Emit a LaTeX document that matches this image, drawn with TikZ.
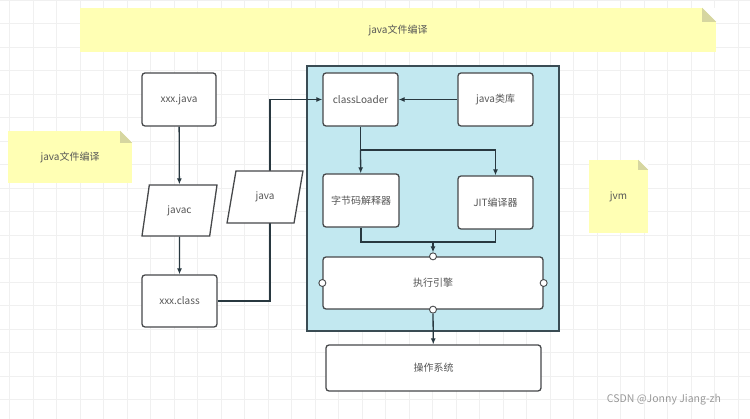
\documentclass[tikz,border=0pt]{standalone}
\usepackage{fontspec}
\setmainfont{Noto Sans CJK SC}
\usepackage{xcolor}
\usepackage{tikz}
\usetikzlibrary{arrows.meta,positioning,shapes.geometric,backgrounds}
\definecolor{edge}{RGB}{70,72,74}
\definecolor{wire}{RGB}{40,56,64}
\definecolor{jvmfill}{RGB}{194,232,240}
\definecolor{jvmedge}{RGB}{58,76,84}
\definecolor{notefill}{RGB}{255,255,180}
\definecolor{notefold}{RGB}{214,214,160}
\definecolor{txt}{RGB}{85,85,85}
\begin{document}
\begin{tikzpicture}[x=1pt,y=-1pt, every node/.style={font=\fontsize{10}{12}\selectfont,text=txt}, box/.style={draw=edge,line width=1.3pt,rounded corners=3pt,fill=white,inner sep=0pt}, para/.style={draw=edge,line width=1.3pt,fill=white,trapezium,trapezium left angle=74,trapezium right angle=106,trapezium stretches=true,inner sep=0pt}, note/.style={fill=notefill,inner sep=0pt}, port/.style={circle,draw=edge,line width=0.9pt,fill=white,minimum size=7pt,inner sep=0pt}, line/.style={draw=wire,line width=1.3pt}, arr/.style={line,-{Latex[length=6pt,width=5pt]}}]
\useasboundingbox (0,0) rectangle (750,419);
\node[note,minimum width=636pt,minimum height=44pt] (topnote) at (398,30) {java文件编译};
\fill[white] (topnote.north east) -- ++(-14,0) -- ++(14,14) -- cycle;
\fill[notefold] (topnote.north east) ++(-14,0) -- ++(0,14) -- ++(14,0) -- cycle;
\node[note,minimum width=124pt,minimum height=52pt] (leftnote) at (70,157) {java文件编译};
\fill[white] (leftnote.north east) -- ++(-12,0) -- ++(12,12) -- cycle;
\fill[notefold] (leftnote.north east) ++(-12,0) -- ++(0,12) -- ++(12,0) -- cycle;
\node[note,minimum width=59pt,minimum height=73pt] (jvmnote) at (618.5,196.5) {jvm};
\fill[white] (jvmnote.north east) -- ++(-10,0) -- ++(10,10) -- cycle;
\fill[notefold] (jvmnote.north east) ++(-10,0) -- ++(0,10) -- ++(10,0) -- cycle;
\node[box,minimum width=74pt,minimum height=53pt] (xjava) at (179,99.5) {xxx.java};
\node[para,minimum width=75pt,minimum height=51pt] (javac) at (179.5,210.5) {javac};
\node[box,minimum width=75pt,minimum height=52pt] (xclass) at (179.5,301) {xxx.class};
\node[para,minimum width=76pt,minimum height=52pt] (javaip) at (265,197) {java};
\node[box,minimum width=75pt,minimum height=53pt] (loader) at (360.5,99.5) {classLoader};
\node[box,minimum width=75pt,minimum height=53pt] (lib) at (495.5,99.5) {java类库};
\node[box,minimum width=76pt,minimum height=53pt] (interp) at (361,200.5) {字节码解释器};
\node[box,minimum width=75pt,minimum height=53pt] (jit) at (495.5,202.5) {JIT编译器};
\node[box,minimum width=220pt,minimum height=52pt] (engine) at (433,283) {执行引擎};
\node[box,minimum width=215pt,minimum height=46pt] (os) at (433.5,368) {操作系统};
\node[port] (pn) at (engine.north) {};
\node[port] (ps) at (engine.south) {};
\node[port] (pw) at (engine.west) {};
\node[port] (pe) at (engine.east) {};
\coordinate (fork) at (360.5,150);
\coordinate (join) at (433,242);
\begin{scope}[on background layer]
\fill[white] (0,0) rectangle (750,419);
\foreach \gx in {9.5,33,...,750} \draw[black!6,line width=0.6pt] (\gx,0) -- (\gx,419);
\foreach \gy in {0,23.5,...,419} \draw[black!6,line width=0.6pt] (0,\gy) -- (750,\gy);
\node[draw=jvmedge,line width=1.5pt,fill=jvmfill,minimum width=252pt,minimum height=265pt] (jvmbox) at (433,198.5) {};
\draw[arr] (xjava) -- (javac);
\draw[arr] (javac.south) -- (xclass);
\draw[arr] (xclass.east) -| ([xshift=5pt]javaip.center) |- (loader.west);
\draw[arr] (lib) -- (loader);
\draw[line] (loader) -- (fork);
\draw[arr] (fork) -- (interp);
\draw[arr] (fork) -| (jit);
\draw[line] (interp) |- (join);
\draw[line] (jit) |- (join);
\draw[arr] (join) -- (pn);
\draw[arr] (ps) -- (os);
\end{scope}
\node[text=black!40,font=\fontsize{10.5}{12}\selectfont] (mark) at (664,400) {CSDN @Jonny Jiang-zh};
\end{tikzpicture}
\end{document}
